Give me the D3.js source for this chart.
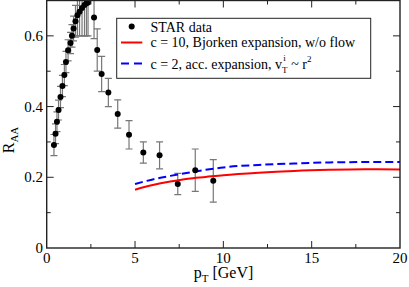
<!DOCTYPE html>
<html><head><meta charset="utf-8">
<script src="https://cdn.jsdelivr.net/npm/d3@7"></script>
<style>body{margin:0;background:#fff}svg{display:block}svg text{font-family:"Liberation Serif","Times New Roman",Times,serif !important}</style>
</head><body>
<svg id="c" width="409" height="287"></svg>
<script>
// STAR data
const starPt  = [0.41,0.50,0.58,0.67,0.78,0.89,1.00,1.09,1.21,1.35,1.43,1.52,1.63,1.74,1.86,2.00,2.14,2.25,2.34,2.68,2.86,3.11,3.49,4.02,4.66,5.47,6.39,7.42,8.41,9.43];
const starRaa = [0.291,0.323,0.357,0.390,0.427,0.458,0.489,0.526,0.559,0.580,0.600,0.621,0.641,0.658,0.668,0.679,0.687,0.692,0.694,0.652,0.560,0.492,0.440,0.379,0.320,0.270,0.262,0.181,0.220,0.190];
const starErr = [0.030,0.028,0.028,0.028,0.030,0.030,0.030,0.030,0.030,0.030,0.032,0.035,0.045,0.058,0.068,0.079,0.087,0.092,0.094,0.060,0.060,0.050,0.040,0.040,0.040,0.030,0.038,0.030,0.060,0.060];
// model curves
const curvePt  = [5,6,7,8,9,10,12,14,16,18,20];
const bjorken  = [0.165,0.178,0.188,0.196,0.201,0.206,0.213,0.218,0.221,0.2225,0.222];
const accExp   = [0.181,0.194,0.204,0.213,0.221,0.228,0.235,0.239,0.242,0.243,0.243];
// ticks
const xMajor = [0,5,10,15,20];
const xMinor = [2.5,7.5,12.5,17.5];
const yMajor = [0,0.2,0.4,0.6];
const yMinor = [0.1,0.3,0.5];
const yLabels = ["0","0.2","0.4","0.6"];

const svg = d3.select("#c");
const L=46.7, R=400, T=0.5, B=248;
const x = d3.scaleLinear().domain([0,20]).range([L,R]);
const y = d3.scaleLinear().domain([0,0.7]).range([B,T]);

svg.append("clipPath").attr("id","clip").append("rect").attr("x",L).attr("y",T).attr("width",R-L).attr("height",B-T);

const g = svg.append("g").attr("clip-path","url(#clip)");
// error bars
const eb = g.append("g").attr("stroke","#777").attr("stroke-width",1.2).attr("fill","none");
starPt.forEach((p,i)=>{
  const xp=x(p), y1=y(starRaa[i]+starErr[i]), y0=y(starRaa[i]-starErr[i]);
  eb.append("line").attr("x1",xp).attr("x2",xp).attr("y1",y1).attr("y2",y0);
  eb.append("line").attr("x1",xp-3.5).attr("x2",xp+3.5).attr("y1",y1).attr("y2",y1);
  eb.append("line").attr("x1",xp-3.5).attr("x2",xp+3.5).attr("y1",y0).attr("y2",y0);
});
// curves
const line = d3.line().x(d=>x(d[0])).y(d=>y(d[1])).curve(d3.curveMonotoneX);
g.append("path").datum(curvePt.map((p,i)=>[p,bjorken[i]])).attr("d",line).attr("fill","none").attr("stroke","#ff0000").attr("stroke-width",2);
g.append("path").datum(curvePt.map((p,i)=>[p,accExp[i]])).attr("d",line).attr("fill","none").attr("stroke","#0000ff").attr("stroke-width",2).attr("stroke-dasharray","8,4");
// points
g.selectAll("circle.pt").data(starPt).enter().append("circle").attr("cx",d=>x(d)).attr("cy",(d,i)=>y(starRaa[i])).attr("r",3).attr("fill","#000");

// frame
svg.append("rect").attr("x",L).attr("y",T).attr("width",R-L).attr("height",B-T).attr("fill","none").attr("stroke","#222").attr("stroke-width",1.4);
// ticks
const tk = svg.append("g").attr("stroke","#222").attr("stroke-width",1);
xMajor.forEach(v=>{ if(v>0&&v<20){tk.append("line").attr("x1",x(v)).attr("x2",x(v)).attr("y1",B).attr("y2",B-7);tk.append("line").attr("x1",x(v)).attr("x2",x(v)).attr("y1",T).attr("y2",T+7);} });
xMinor.forEach(v=>{tk.append("line").attr("x1",x(v)).attr("x2",x(v)).attr("y1",B).attr("y2",B-4);tk.append("line").attr("x1",x(v)).attr("x2",x(v)).attr("y1",T).attr("y2",T+4);});
yMajor.forEach(v=>{ if(v>0){tk.append("line").attr("y1",y(v)).attr("y2",y(v)).attr("x1",L).attr("x2",L+7);tk.append("line").attr("y1",y(v)).attr("y2",y(v)).attr("x1",R).attr("x2",R-7);} });
yMinor.forEach(v=>{tk.append("line").attr("y1",y(v)).attr("y2",y(v)).attr("x1",L).attr("x2",L+4);tk.append("line").attr("y1",y(v)).attr("y2",y(v)).attr("x1",R).attr("x2",R-4);});

// tick labels
svg.selectAll("text.xl").data(xMajor).enter().append("text").attr("x",d=>x(d)).attr("y",262.5).attr("text-anchor","middle").attr("font-size",15).text(d=>d);
svg.selectAll("text.yl").data(yMajor).enter().append("text").attr("x",43).attr("y",d=>y(d)+5).attr("text-anchor","end").attr("font-size",15).text((d,i)=>yLabels[i]);

// axis titles
const xt = svg.append("text").attr("x",223.5).attr("y",278).attr("text-anchor","middle").attr("font-size",16);
xt.append("tspan").text("p");
xt.append("tspan").attr("font-size",11).attr("dy",4).text("T");
xt.append("tspan").attr("dy",-4).text(" [GeV]");
const yt = svg.append("text").attr("transform","translate(13.5,140) rotate(-90)").attr("text-anchor","middle").attr("font-size",16);
yt.append("tspan").text("R");
yt.append("tspan").attr("font-size",11).attr("dy",4).text("AA");

// legend
const lg = svg.append("g");
lg.append("rect").attr("x",116.7).attr("y",18.3).attr("width",254).attr("height",60).attr("fill","#fff").attr("stroke","#222").attr("stroke-width",1);
lg.append("circle").attr("cx",131.7).attr("cy",26.5).attr("r",3).attr("fill","#000");
lg.append("line").attr("x1",121).attr("x2",142.3).attr("y1",42.5).attr("y2",42.5).attr("stroke","#ff0000").attr("stroke-width",2);
lg.append("line").attr("x1",121).attr("x2",142.3).attr("y1",63.5).attr("y2",63.5).attr("stroke","#0000ff").attr("stroke-width",2).attr("stroke-dasharray","8,5");
lg.append("text").attr("x",150.5).attr("y",31.5).attr("font-size",14).text("STAR data");
lg.append("text").attr("x",150.5).attr("y",46.5).attr("font-size",14).text("c = 10, Bjorken expansion, w/o flow");
const t3 = lg.append("text").attr("x",150.5).attr("y",68.5).attr("font-size",14);
t3.append("tspan").text("c = 2, acc. expansion, v");
t3.append("tspan").attr("font-size",9).attr("dy",4).text("T");
t3.append("tspan").attr("font-size",9).attr("dy",-12).attr("dx",-4).text("i");
t3.append("tspan").attr("dy",8).attr("dx",2).text(" ~ r");
t3.append("tspan").attr("font-size",9).attr("dy",-7).text("2");
</script>
</body></html>
